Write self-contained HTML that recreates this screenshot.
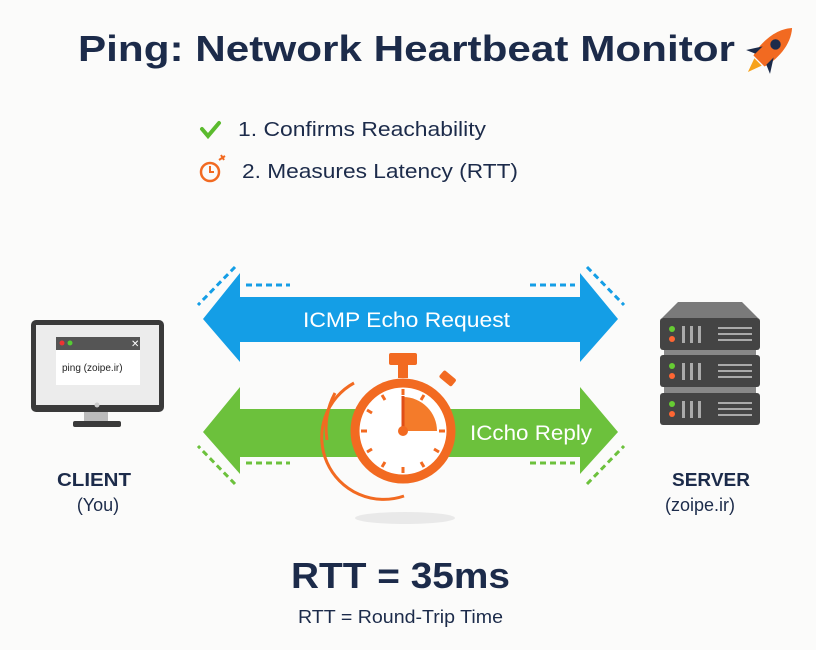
<!DOCTYPE html>
<html><head><style>
body{margin:0;background:#fbfbfa;}
svg{display:block;font-family:"Liberation Sans",sans-serif;}
</style></head><body>
<svg width="816" height="650" viewBox="0 0 816 650">
<rect width="816" height="650" fill="#fbfbfa"/>
<text x="78" y="61" font-size="36" font-weight="bold" fill="#1c2b4a" textLength="657" lengthAdjust="spacingAndGlyphs">Ping: Network Heartbeat Monitor</text>
<!-- rocket -->
<g transform="translate(770,50) rotate(45) scale(1.3)">
<path d="M0,-24 C9,-14 9,2 6,12 L-6,12 C-9,2 -9,-14 0,-24Z" fill="#f26a21"/>
<circle cx="0" cy="-6" r="4" fill="#1c2b4a"/>
<path d="M-6,2 L-13,13 L-6,10Z M6,2 L13,13 L6,10Z" fill="#1c2b4a"/>
<path d="M-4,13 L0,24 L4,13Z" fill="#f7a21b"/>
</g>
<path d="M202,129 l6,7 l11,-13" stroke="#5bbb2e" stroke-width="4" fill="none" stroke-linecap="round"/>
<text x="238" y="136" font-size="20" fill="#1c2b4a" textLength="248" lengthAdjust="spacingAndGlyphs">1. Confirms Reachability</text>
<circle cx="210" cy="172" r="9" fill="none" stroke="#f26a21" stroke-width="2.5"/>
<path d="M210,166 v6 h4" stroke="#f26a21" stroke-width="2" fill="none"/>
<path d="M219,160 l6,-4 M221,155 l3,5" stroke="#f26a21" stroke-width="2"/>
<text x="242" y="178" font-size="20" fill="#1c2b4a" textLength="276" lengthAdjust="spacingAndGlyphs">2. Measures Latency (RTT)</text>
<!-- blue arrow -->
<path d="M203,319 L240,273 L240,297 L580,297 L580,273 L618,319 L580,362 L580,342 L240,342 L240,362Z" fill="#149ee6"/>
<text x="303" y="327" font-size="21" fill="#fff" textLength="207" lengthAdjust="spacingAndGlyphs">ICMP Echo Request</text>
<g stroke="#149ee6" stroke-width="3" stroke-dasharray="6,4">
<path d="M246,285 H290 M530,285 H575"/>
<path d="M235,267 L198,305 M587,267 L624,305"/>
</g>
<!-- green arrow -->
<path d="M203,432 L240,387 L240,409 L580,409 L580,387 L618,432 L580,474 L580,457 L240,457 L240,474Z" fill="#6cc13c"/>
<text x="470" y="440" font-size="21" fill="#fff" textLength="122" lengthAdjust="spacingAndGlyphs">ICcho Reply</text>
<g stroke="#6cc13c" stroke-width="3" stroke-dasharray="6,4">
<path d="M246,463 H290 M530,463 H575"/>
<path d="M235,484 L198,446 M587,484 L624,446"/>
</g>
<!-- stopwatch -->
<ellipse cx="405" cy="518" rx="50" ry="6" fill="#ddd" opacity="0.6"/>
<rect x="389" y="353" width="28" height="12" rx="2" fill="#f26a21"/>
<rect x="398" y="364" width="10" height="14" fill="#f26a21"/>
<rect x="440" y="374" width="16" height="9" rx="2" fill="#f26a21" transform="rotate(40 448 378)"/>
<circle cx="403" cy="431" r="48" fill="#fff" stroke="#f26a21" stroke-width="9"/>
<path d="M403,431 L403,397 A34,34 0 0 1 437,431Z" fill="#f47b2a"/>
<line x1="403" y1="431" x2="403" y2="396" stroke="#e04e17" stroke-width="3"/>
<circle cx="403" cy="431" r="5" fill="#f26a21"/>
<g stroke="#f26a21" stroke-width="3">
<line x1="403" y1="389" x2="403" y2="395"/><line x1="403" y1="467" x2="403" y2="473"/>
<line x1="361" y1="431" x2="367" y2="431"/><line x1="439" y1="431" x2="445" y2="431"/>
<line x1="382" y1="395" x2="385" y2="400"/><line x1="367" y1="410" x2="372" y2="413"/>
<line x1="367" y1="452" x2="372" y2="449"/><line x1="382" y1="467" x2="385" y2="462"/>
<line x1="424" y1="467" x2="421" y2="462"/><line x1="439" y1="452" x2="434" y2="449"/>
<line x1="424" y1="395" x2="421" y2="400"/>
</g>
<path d="M354,383 A62,62 0 0 0 404,496" stroke="#f26a21" stroke-width="3" fill="none"/>
<path d="M335,393 A75,75 0 0 0 327,440" stroke="#f26a21" stroke-width="3" fill="none"/>
<!-- monitor -->
<rect x="31" y="320" width="133" height="92" rx="5" fill="#3a3a3a"/>
<rect x="36" y="325" width="123" height="80" fill="#ececec"/>
<circle cx="97" cy="405" r="2.5" fill="#ccc"/>
<rect x="56" y="337" width="84" height="13" fill="#555"/>
<rect x="56" y="350" width="84" height="35" fill="#fff"/>
<circle cx="62" cy="343" r="2.5" fill="#e33"/><circle cx="70" cy="343" r="2.5" fill="#5c3"/>
<text x="131" y="347" font-size="10" fill="#fff">✕</text>
<text x="62" y="371" font-size="10" fill="#222">ping (zoipe.ir)</text>
<rect x="84" y="412" width="24" height="10" fill="#bbb"/>
<rect x="73" y="421" width="48" height="6" rx="2" fill="#3a3a3a"/>
<text x="57" y="486" font-size="18" font-weight="bold" fill="#1c2b4a" textLength="74" lengthAdjust="spacingAndGlyphs">CLIENT</text>
<text x="98" y="511" text-anchor="middle" font-size="18" fill="#1c2b4a">(You)</text>
<!-- server -->
<path d="M678,302 L742,302 L758,318 L662,318Z" fill="#7a7a7a"/>
<rect x="664" y="345" width="92" height="60" fill="#888"/>
<g id="u">
<rect x="660" y="318" width="100" height="32" rx="3" fill="#444"/>
<circle cx="672" cy="329" r="3" fill="#6c3"/><circle cx="672" cy="339" r="3" fill="#f63"/>
<rect x="682" y="326" width="3" height="17" fill="#aaa"/><rect x="690" y="326" width="3" height="17" fill="#aaa"/><rect x="698" y="326" width="3" height="17" fill="#aaa"/>
<rect x="718" y="327" width="34" height="2" fill="#aaa"/><rect x="718" y="333" width="34" height="2" fill="#aaa"/><rect x="718" y="339" width="34" height="2" fill="#aaa"/>
</g>
<use href="#u" y="37"/><use href="#u" y="75"/>
<text x="672" y="486" font-size="18" font-weight="bold" fill="#1c2b4a" textLength="78" lengthAdjust="spacingAndGlyphs">SERVER</text>
<text x="700" y="511" text-anchor="middle" font-size="18" fill="#1c2b4a">(zoipe.ir)</text>
<text x="291" y="588" font-size="36" font-weight="bold" fill="#1c2b4a" textLength="219" lengthAdjust="spacingAndGlyphs">RTT = 35ms</text>
<text x="298" y="623" font-size="18" fill="#1c2b4a" textLength="205" lengthAdjust="spacingAndGlyphs">RTT = Round-Trip Time</text>
</svg>
</body></html>
